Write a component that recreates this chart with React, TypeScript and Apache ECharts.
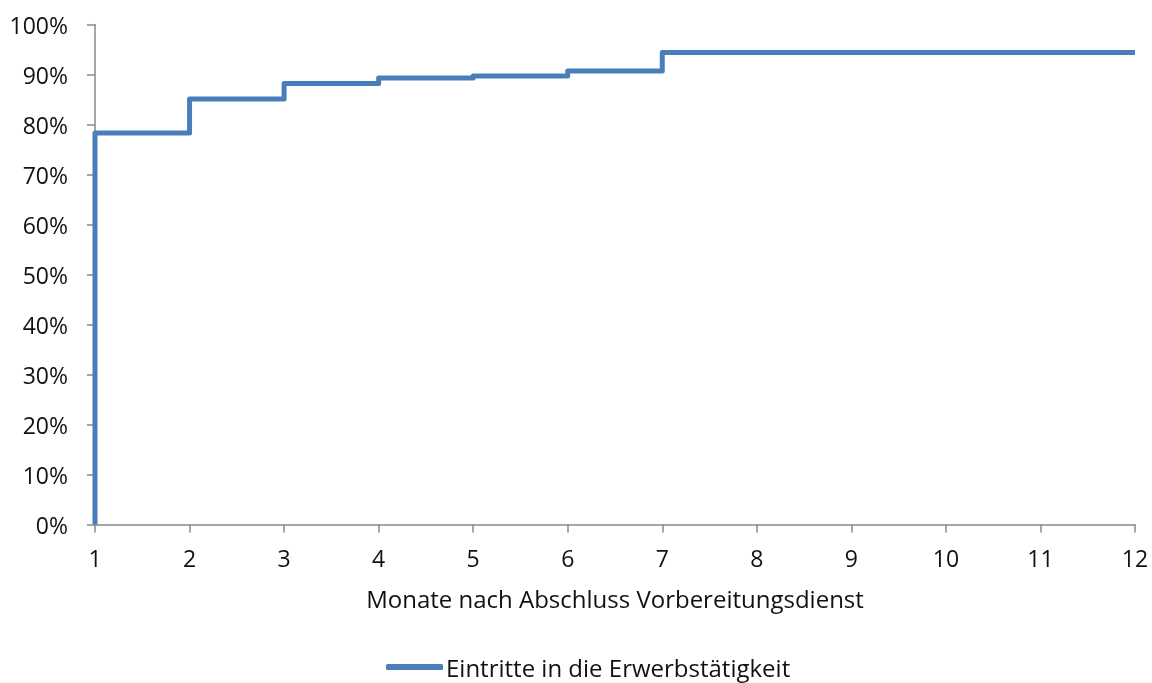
import React, { useEffect, useRef } from "react";
import * as echarts from "echarts";

const months = [1, 1, 2, 3, 4, 5, 6, 7, 8, 9, 10, 11, 12];
const shares = [0, 78.3, 85.1, 88.2, 89.3, 89.7, 90.7, 94.4, 94.4, 94.4, 94.4, 94.4, 94.4];
const seriesName = "Eintritte in die Erwerbstätigkeit";
const xAxisTitle = "Monate nach Abschluss Vorbereitungsdienst";

const FONT = "'Open Sans', 'Noto Sans', sans-serif";
const AXIS_COLOR = "#888888";
const TEXT_COLOR = "#111111";
const LINE_COLOR = "#4a7ebb";

export default function App() {
  const ref = useRef<HTMLDivElement>(null);
  useEffect(() => {
    document.body.style.margin = "0";
    const chart = echarts.init(ref.current!, null, { renderer: "svg" });
    chart.setOption({
      animation: false,
      textStyle: { fontFamily: FONT },
      grid: { left: 95, right: 17, top: 24.5, bottom: 158.5, containLabel: false },
      xAxis: {
        type: "value",
        min: 1,
        max: 12,
        interval: 1,
        name: xAxisTitle,
        nameLocation: "middle",
        nameGap: 62,
        nameTextStyle: { fontSize: 24, color: TEXT_COLOR, fontFamily: FONT },
        axisLine: { show: true, lineStyle: { color: AXIS_COLOR, width: 1.5 } },
        axisTick: { show: true, length: 8, lineStyle: { color: AXIS_COLOR, width: 1.5 } },
        axisLabel: { fontSize: 23, color: TEXT_COLOR, margin: 22, fontFamily: FONT },
        splitLine: { show: false },
      },
      yAxis: {
        type: "value",
        min: 0,
        max: 100,
        interval: 10,
        axisLine: { show: true, lineStyle: { color: AXIS_COLOR, width: 1.5 } },
        axisTick: { show: true, length: 8, lineStyle: { color: AXIS_COLOR, width: 1.5 } },
        axisLabel: { fontSize: 23, color: TEXT_COLOR, margin: 27, formatter: "{value}%", fontFamily: FONT },
        splitLine: { show: false },
      },
      legend: {
        top: 655,
        left: 386,
        padding: 0,
        itemWidth: 57,
        itemHeight: 6,
        itemGap: 0,
        icon: "roundRect",
        textStyle: { fontSize: 24, color: TEXT_COLOR, fontFamily: FONT, padding: [0, 0, 0, -2] },
        data: [{ name: seriesName, itemStyle: { color: LINE_COLOR } }],
      },
      series: [
        {
          name: seriesName,
          type: "line",
          step: "end",
          showSymbol: false,
          symbol: "none",
          data: months.map((m, i) => [m, shares[i]]),
          lineStyle: { color: LINE_COLOR, width: 5, join: "round" },
          itemStyle: { color: LINE_COLOR },
        },
      ],
    });
    return () => chart.dispose();
  }, []);
  return <div ref={ref} style={{ position: "fixed", left: 0, top: 0, width: 1152, height: 683 }} />;
}
